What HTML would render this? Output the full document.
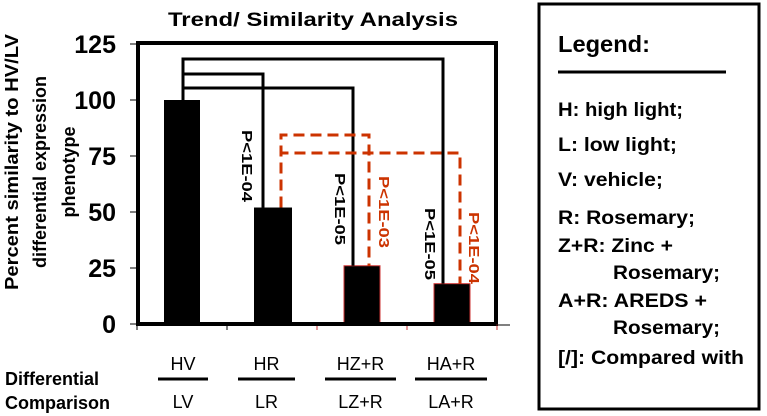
<!DOCTYPE html>
<html><head><meta charset="utf-8"><style>
body{margin:0;background:#fff;}
svg{display:block;font-family:"Liberation Sans",Arial,sans-serif;}
</style></head><body>
<svg id="chart" width="767" height="416" viewBox="0 0 767 416" xmlns="http://www.w3.org/2000/svg">
<rect x="0" y="0" width="767" height="416" fill="#fff"/>
<text x="313" y="26" text-anchor="middle" font-size="19" font-weight="bold" textLength="290" lengthAdjust="spacingAndGlyphs">Trend/ Similarity Analysis</text>
<g id="ytitle" font-size="18" font-weight="bold" text-anchor="middle">
<text transform="translate(18,162) rotate(-90)" textLength="256" lengthAdjust="spacingAndGlyphs">Percent similarity to HV/LV</text>
<text transform="translate(46,172) rotate(-90)">differential expression</text>
<text transform="translate(75,172) rotate(-90)">phenotype</text>
</g>
<g id="plot"></g>
<g id="bottom" font-size="18">
<text x="5" y="385" font-weight="bold">Differential</text>
<text x="5" y="409" font-weight="bold">Comparison</text>
</g>
<g>
<rect x="539" y="4" width="220" height="405" fill="#fff" stroke="#000" stroke-width="3"/>
<text x="558" y="52" font-size="23" font-weight="bold" textLength="92" lengthAdjust="spacingAndGlyphs">Legend:</text>
<line x1="558" y1="72" x2="726" y2="72" stroke="#000" stroke-width="3"/>
<g font-size="19" font-weight="bold" lengthAdjust="spacingAndGlyphs">
<text x="558" y="116" textLength="125" lengthAdjust="spacingAndGlyphs">H: high light;</text>
<text x="558" y="151" textLength="119" lengthAdjust="spacingAndGlyphs">L: low light;</text>
<text x="558" y="186" textLength="105" lengthAdjust="spacingAndGlyphs">V: vehicle;</text>
<text x="558" y="224" textLength="137" lengthAdjust="spacingAndGlyphs">R: Rosemary;</text>
<text x="558" y="252" textLength="115" lengthAdjust="spacingAndGlyphs">Z+R: Zinc +</text>
<text x="613" y="279" textLength="107" lengthAdjust="spacingAndGlyphs">Rosemary;</text>
<text x="558" y="307" textLength="149" lengthAdjust="spacingAndGlyphs">A+R: AREDS +</text>
<text x="613" y="334" textLength="107" lengthAdjust="spacingAndGlyphs">Rosemary;</text>
<text x="558" y="364" textLength="186" lengthAdjust="spacingAndGlyphs">[/]: Compared with</text>
</g>
</g>
</svg>
<script>
const categories = ["HV/LV","HR/LR","HZ+R/LZ+R","HA+R/LA+R"];
const numerators = ["HV","HR","HZ+R","HA+R"];
const denominators = ["LV","LR","LZ+R","LA+R"];
const values = [100, 52, 26, 18];
const yTicks = [0, 25, 50, 75, 100, 125];
const blackPValues = ["P<1E-04","P<1E-05","P<1E-05"];
const redPValues = ["P<1E-03","P<1E-04"];

const NS = "http://www.w3.org/2000/svg";
const X0 = 137, BAND = 90, Y0 = 324, PXPER = 280/125;
const xCenter = i => X0 + BAND*i + BAND/2;
const yScale = v => Y0 - v*PXPER;
const plot = document.getElementById('plot');
function mk(tag, attrs, parent){ const e=document.createElementNS(NS,tag); for(const k in attrs) e.setAttribute(k,attrs[k]); (parent||plot).appendChild(e); return e; }

const frame = mk('rect',{x:138,y:yScale(125)-1,width:358,height:Y0-yScale(125)+1,fill:'none',stroke:'#000','stroke-width':4});



yTicks.forEach(t=>{
  const y=yScale(t);
  const tk=mk('line',{x1:130,x2:138,y1:y,y2:y,stroke:'#000','stroke-width':1});
  
  
  const lb=mk('text',{x:116,y:y+9,'text-anchor':'end','font-size':25,'font-weight':'bold'});
  lb.textContent=t;
  
  
});
for(let i=0;i<=categories.length;i++){
  const x=X0+BAND*i;
  const tk=mk('line',{x1:x,x2:x,y1:Y0,y2:Y0+6,stroke:i>=2?'#c33':'#000','stroke-width':1});
  
  
}
mk('line',{x1:496,x2:510,y1:Y0+1,y2:Y0+1,stroke:'#000','stroke-width':1});

values.forEach((v,i)=>{
  const w = i===1?38:36;
  const b=mk('rect',{x:xCenter(i)-w/2+(i===1?1:0),y:yScale(v),width:w,height:Y0-yScale(v),fill:'#000',stroke:i>=2?'#c33':'none','stroke-width':1});
  
  
});
mk('line',{x1:138,x2:496,y1:Y0,y2:Y0,stroke:'#000','stroke-width':4});

const bracketY=[74,88,59];
[1,2,3].forEach((j,k)=>{
  const x1=xCenter(0)+1;
  const xe = j===1?263:(j===2?353:443);
  const p=mk('path',{d:`M${x1},${yScale(values[0])} V${bracketY[k]} H${xe} V${yScale(values[j])}`,fill:'none',stroke:'#000','stroke-width':3});
  
  
});
const redY=[135,153];
[2,3].forEach((j,k)=>{
  const xe = j===2?369:460;
  const p=mk('path',{d:`M281,${yScale(values[1])} V${redY[k]} H${xe} V${yScale(values[j])}`,fill:'none',stroke:'#cc3300','stroke-width':3,'stroke-dasharray':'11,6'});
  
  
});
const blackPos=[[242,130],[335,173],[425,208]];
blackPValues.forEach((s,i)=>{
  const t=mk('text',{transform:`translate(${blackPos[i][0]},${blackPos[i][1]}) rotate(90)`,'font-size':15,'font-weight':'bold',fill:'#000',textLength:72,lengthAdjust:'spacingAndGlyphs'});
  t.textContent=s;
  
  
});
const redPos=[[379,176],[469,212]];
redPValues.forEach((s,i)=>{
  const t=mk('text',{transform:`translate(${redPos[i][0]},${redPos[i][1]}) rotate(90)`,'font-size':15,'font-weight':'bold',fill:'#cc3300',textLength:72,lengthAdjust:'spacingAndGlyphs'});
  t.textContent=s;
  
  
});

const bottom=document.getElementById('bottom');
const lineSpans=[[158,208],[238,295],[325,396],[415,487]];
numerators.forEach((n,i)=>{
  const cx=(lineSpans[i][0]+lineSpans[i][1])/2;
  const a=mk('text',{x:cx,y:370,'text-anchor':'middle'},bottom);
  a.textContent=n;
  
  
  const l=mk('line',{x1:lineSpans[i][0],x2:lineSpans[i][1],y1:379,y2:379,stroke:'#000','stroke-width':3},bottom);
  
  
  const d=mk('text',{x:cx,y:408,'text-anchor':'middle'},bottom);
  d.textContent=denominators[i];
  
  
});
</script>
</body></html>
